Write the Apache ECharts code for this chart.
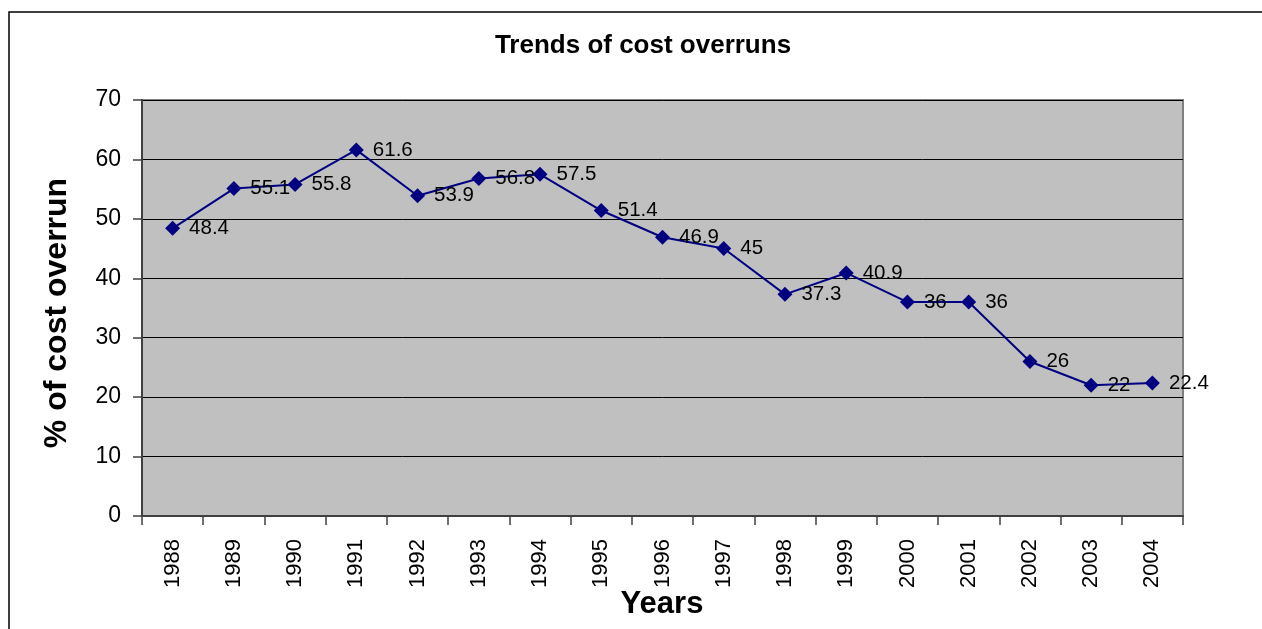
<!DOCTYPE html>
<html>
<head>
<meta charset="utf-8">
<script src="https://cdn.jsdelivr.net/npm/echarts@6/dist/echarts.min.js"></script>
<style>html,body{margin:0;padding:0;background:#fff;}#c{width:1262px;height:629px;}</style>
</head>
<body>
<div id="c"></div>
<script>
const years = ['1988','1989','1990','1991','1992','1993','1994','1995','1996','1997','1998','1999','2000','2001','2002','2003','2004'];
const overrun = [48.4,55.1,55.8,61.6,53.9,56.8,57.5,51.4,46.9,45,37.3,40.9,36,36,26,22,22.4];
const titleText = 'Trends of cost overruns';
const yName = '% of cost overrun';
const xName = 'Years';

const chart = echarts.init(document.getElementById('c'));
const F = 'Liberation Sans, Arial, sans-serif';
chart.setOption({
  animation: false,
  backgroundColor: '#fff',
  graphic: [
    { type: 'rect', shape: { x: 9, y: 12, width: 1400, height: 800 }, silent: true, z: -10,
      style: { fill: 'none', stroke: '#000', lineWidth: 1.5 } },
    { type: 'text', x: 643, y: 46, silent: true,
      style: { text: titleText, fontFamily: F, fontSize: 26, fontWeight: 'bold', fill: '#000',
        align: 'center', verticalAlign: 'middle' } },
    { type: 'text', x: 57, y: 313, rotation: Math.PI/2, silent: true,
      style: { text: yName, fontFamily: F, fontSize: 32, fontWeight: 'bold', fill: '#000',
        align: 'center', verticalAlign: 'middle' } },
    { type: 'text', x: 662, y: 604, silent: true,
      style: { text: xName, fontFamily: F, fontSize: 31, fontWeight: 'bold', fill: '#000',
        align: 'center', verticalAlign: 'middle' } }
  ],
  grid: { left: 142, right: 1262-1183, top: 100, bottom: 629-516, show: true,
    backgroundColor: '#C0C0C0', borderColor: '#808080', borderWidth: 2 },
  xAxis: {
    type: 'category', data: years, boundaryGap: true,
    axisLine: { lineStyle: { color: '#404040', width: 2 } },
    axisTick: { show: true, length: 9, alignWithLabel: false, lineStyle: { color: '#404040', width: 1.5 } },
    axisLabel: { rotate: 90, margin: 23, fontFamily: F, fontSize: 22, color: '#000', interval: 0 }
  },
  yAxis: {
    type: 'value', min: 0, max: 70, interval: 10,
    axisLine: { show: true, lineStyle: { color: '#404040', width: 2 } },
    axisTick: { show: true, length: 9, lineStyle: { color: '#404040', width: 1.5 } },
    axisLabel: { margin: 21, fontFamily: F, fontSize: 23, color: '#000' },
    splitLine: { show: true, lineStyle: { color: '#000', width: 1 } }
  },
  series: [{
    type: 'line', data: overrun,
    symbol: 'diamond', symbolSize: 15,
    lineStyle: { color: '#000080', width: 2 },
    itemStyle: { color: '#000080' },
    label: { show: true, position: 'right', distance: 9, fontFamily: F, fontSize: 20.5, color: '#000' }
  }]
});
</script>
</body>
</html>
